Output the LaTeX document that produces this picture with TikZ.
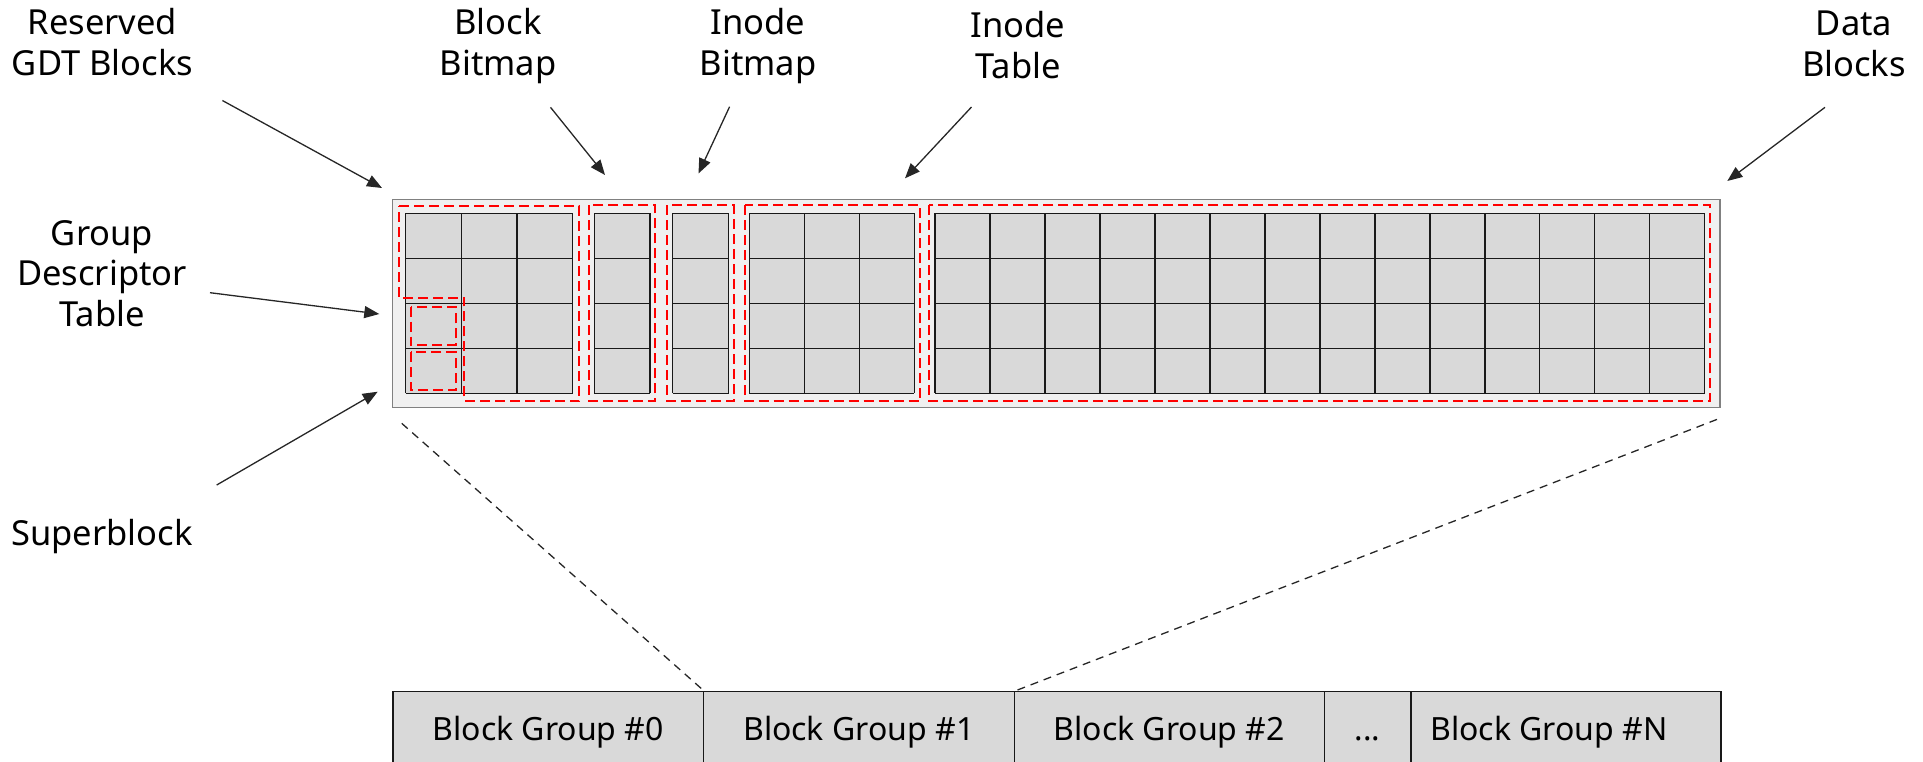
\documentclass[tikz,border=0pt]{standalone}
\usepackage{fontspec}
\setmainfont{Noto Sans}
\usetikzlibrary{arrows.meta}
\definecolor{cellgray}{HTML}{D9D9D9}
\definecolor{boxbg}{HTML}{F0F0F0}
\definecolor{boxedge}{HTML}{808080}
\definecolor{arrowc}{HTML}{262626}
\begin{document}
\begin{tikzpicture}[x=1pt,y=-1pt,
  lbl/.style={font=\fontsize{34.5}{40.5}\selectfont, align=center, inner sep=0pt, anchor=base},
  arr/.style={draw=arrowc, line width=1.3pt, -{Triangle[length=15pt,width=12pt]}},
  gridline/.style={draw=black!90, line width=1.4pt},
  redbox/.style={draw=red, line width=2.3pt, dash pattern=on 10pt off 5pt},
  zoomline/.style={draw=arrowc, line width=1.3pt, dash pattern=on 8pt off 6pt},
  groupbox/.style={draw=black!90, fill=cellgray, line width=1.4pt, minimum height=74pt,
    text height=23pt, text depth=0pt, inner sep=0pt, anchor=north west,
    font=\fontsize{32}{40.5}\selectfont}]
\useasboundingbox (0,0) rectangle (1923,761);

% container of one block group
\draw[fill=boxbg, draw=boxedge, line width=1.5pt] (392.3,199.3) rectangle (1720,407.3);

% block cells
\foreach \xs/\n/\w in {405.7/3/55.67, 594.3/1/55.7, 672.7/1/56, 749.3/3/55, 935/14/54.98} {
  \fill[cellgray] (\xs,213.3) rectangle ({\xs+\n*\w},393.3);
  \foreach \i in {0,...,\n} \draw[gridline] ({\xs+\i*\w},213.3) -- ({\xs+\i*\w},393.3);
  \foreach \j in {0,...,4} \draw[gridline] (\xs,{213.3+45*\j}) -- ({\xs+\n*\w},{213.3+45*\j});
}

% red dashed regions
\draw[redbox] (399,206) -- (579.3,206) -- (579.3,401) -- (464.3,401) -- (464.3,297.7) -- (399,297.7) -- cycle;
\draw[redbox] (410.7,306.7) rectangle (455.7,345);
\draw[redbox] (410.7,352.3) rectangle (455.7,390);
\draw[redbox] (589.3,205.3) rectangle (655.3,401.3);
\draw[redbox] (667.3,205.3) rectangle (733.7,401.3);
\draw[redbox] (744.7,205.3) rectangle (920.3,401.3);
\draw[redbox] (929.3,205.3) rectangle (1710.3,401.3);

% labels (anchor = baseline of last line)
\node[lbl] (rgdt) at (102.5,75) {Reserved\\GDT Blocks};
\node[lbl] (bbm) at (498,75) {Block\\Bitmap};
\node[lbl] (ibm) at (758,75) {Inode\\Bitmap};
\node[lbl] (itab) at (1018,78) {Inode\\Table};
\node[lbl] (data) at (1854,76) {Data\\Blocks};
\node[lbl] (gdt) at (102,326) {Group\\Descriptor\\Table};
\node[lbl] (sb) at (102,545) {Superblock};

% arrow end points
\coordinate (rgdtA) at (222.4,100.5); \coordinate (rgdtB) at (382,188);
\coordinate (bbmA) at (550.5,107.3);  \coordinate (bbmB) at (605,175);
\coordinate (ibmA) at (729.6,106.7);  \coordinate (ibmB) at (698.5,173.5);
\coordinate (itabA) at (971.5,107);   \coordinate (itabB) at (905,178.3);
\coordinate (dataA) at (1825,107.3);  \coordinate (dataB) at (1727.3,181);
\coordinate (gdtA) at (210,292.7);    \coordinate (gdtB) at (379.3,314);
\coordinate (sbA) at (216.7,485);     \coordinate (sbB) at (377.7,391.7);
\foreach \a in {rgdt,bbm,ibm,itab,data,gdt,sb} \draw[arr] (\a A) -- (\a B);

% block groups row
\node[groupbox, minimum width=310.4pt] (g0) at (392.3,691) {Block Group \#0};
\node[groupbox, minimum width=310.8pt] (g1) at (702.7,691) {Block Group \#1};
\node[groupbox, minimum width=310.2pt] (g2) at (1013.5,691) {Block Group \#2};
\node[groupbox, minimum width=86.5pt] (gd) at (1323.7,691) {...};
\node[groupbox, minimum width=310.2pt] (gn) at (1410.2,691) {\hspace*{-34pt}Block Group \#N};

% zoom lines
\coordinate (zl) at (401.7,423.3);
\coordinate (zr) at (1717,419.4);
\draw[zoomline] (zl) -- (g0.north east);
\draw[zoomline] (zr) -- (g1.north east);
\end{tikzpicture}
\end{document}
